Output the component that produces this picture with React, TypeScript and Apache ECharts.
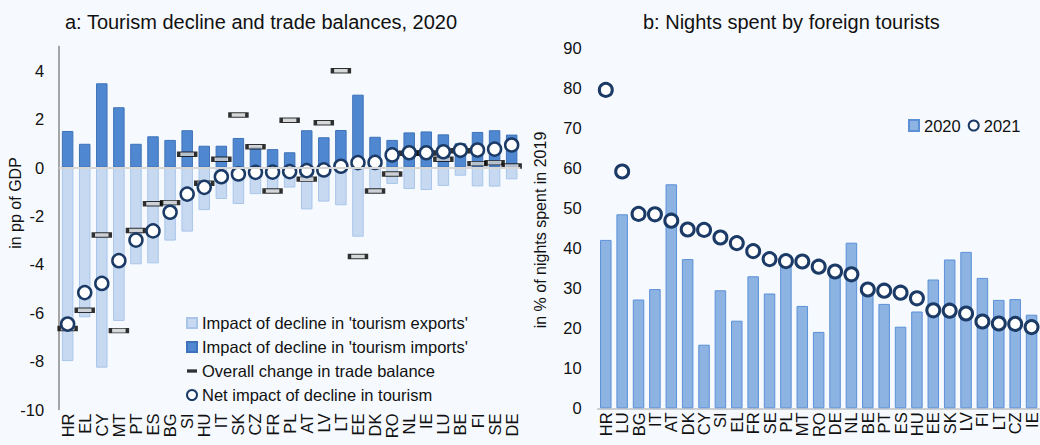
import React, { useEffect, useRef } from "react";
import * as echarts from "echarts";

const catsA = ["HR","EL","CY","MT","PT","ES","BG","SI","HU","IT","SK","CZ","FR","PL","AT","LV","LT","EE","DK","RO","NL","IE","LU","BE","FI","SE","DE"];
const tourismExports = [-8.0,-6.19,-8.27,-6.34,-4.0,-3.96,-3.02,-2.65,-1.76,-1.3,-1.51,-1.1,-0.95,-0.83,-1.73,-1.41,-1.56,-2.86,-1.06,-0.68,-0.89,-0.93,-0.76,-0.34,-0.78,-0.79,-0.49];
const tourismImports = [1.51,0.98,3.48,2.49,0.98,1.29,1.14,1.54,0.9,0.9,1.22,0.86,0.76,0.63,1.54,1.25,1.55,3.01,1.27,1.14,1.45,1.49,1.37,1.0,1.47,1.54,1.36];
const tradeBalance = [-6.65,-5.9,-2.79,-6.74,-2.6,-1.5,-1.45,0.55,-0.65,0.34,2.17,0.86,-0.97,1.95,-0.48,1.85,4.0,-3.68,-0.97,-0.27,0.59,0.6,0.34,0.69,0.16,0.2,0.06];
const netImpact = [-6.47,-5.17,-4.79,-3.85,-3.0,-2.62,-1.85,-1.1,-0.82,-0.38,-0.27,-0.2,-0.19,-0.17,-0.13,-0.1,0.05,0.2,0.21,0.52,0.61,0.61,0.65,0.71,0.72,0.76,0.93];

const catsB = ["HR","LU","BG","IT","AT","DK","CY","SI","EL","FR","SE","PL","MT","RO","DE","NL","BE","PT","ES","HU","EE","SK","LV","FI","LT","CZ","IE"];
const nights2020 = [42.1,48.5,27.2,29.8,56.0,37.3,15.9,29.5,21.9,33.0,28.7,36.2,25.6,19.1,34.2,41.4,29.9,26.1,20.4,24.2,32.2,37.2,39.1,32.6,27.1,27.3,23.4];
const nights2021 = [79.6,59.2,48.6,48.5,46.9,44.7,44.6,42.7,41.3,39.3,37.3,36.8,36.7,35.4,34.2,33.5,29.7,29.4,28.9,27.5,24.5,24.4,23.7,21.7,21.2,21.1,20.3];

const yTicksA = { min: -10, max: 5, interval: 2 };
const yTicksB = { min: 0, max: 90, interval: 10 };

const FONT = "Liberation Sans, Arial, sans-serif";
const TXT = "#111";
const FS = 16.5;

export default function App() {
  const ref = useRef<HTMLDivElement>(null);
  useEffect(() => {
    document.body.style.margin = "0";
    const chart = echarts.init(ref.current!, null, { renderer: "svg" });
    const darkBlue = "#4f88d1";
    const lightBlue = "#c6d9f1";
    const navy = "#1b3a66";
    const option: any = {
      animation: false,
      backgroundColor: "#f6faff",
      textStyle: { fontFamily: FONT, color: TXT },
      title: [
        { text: "a: Tourism decline and trade balances, 2020", left: 60, top: 7, textStyle: { fontFamily: FONT, fontSize: 20, fontWeight: "normal", color: TXT } },
        { text: "b: Nights spent by foreign tourists", left: 638, top: 7, textStyle: { fontFamily: FONT, fontSize: 20, fontWeight: "normal", color: TXT } },
      ],
      grid: [
        { left: 59.1, top: 46.5, width: 461.1, height: 363 },
        { left: 597.6, top: 48.3, width: 444.9, height: 360 },
      ],
      legend: [
        {
          orient: "vertical", left: 181, top: 309, itemWidth: 10, itemHeight: 10, itemGap: 6,
          textStyle: { fontFamily: FONT, fontSize: FS, color: TXT, lineHeight: 18 },
          data: [
            { name: "Impact of decline in 'tourism exports'", icon: "rect" },
            { name: "Impact of decline in 'tourism imports'", icon: "rect" },
            { name: "Overall change in trade balance", icon: "path://M0,0 L12,0 L12,4 L0,4 Z", itemStyle: { color: "#000", borderWidth: 0 } },
            { name: "Net impact of decline in tourism", icon: "circle" },
          ],
        },
        {
          orient: "horizontal", left: 903, top: 112, itemWidth: 10, itemHeight: 11, itemGap: 7,
          textStyle: { fontFamily: FONT, fontSize: FS, color: TXT },
          data: [
            { name: "2020", icon: "rect" },
            { name: "2021", icon: "circle" },
          ],
        },
      ],
      xAxis: [
        {
          type: "category", gridIndex: 0, data: catsA,
          axisLine: { show: false }, axisTick: { show: false },
          axisLabel: { rotate: 90, fontSize: FS, color: TXT, margin: 4, interval: 0, fontFamily: FONT },
        },
        {
          type: "category", gridIndex: 1, data: catsB,
          axisLine: { show: true, lineStyle: { color: "#c0c0c0", width: 1.5 } }, axisTick: { show: false },
          axisLabel: { rotate: 90, fontSize: FS, color: TXT, margin: 4, interval: 0, fontFamily: FONT },
        },
      ],
      yAxis: [
        {
          type: "value", gridIndex: 0, ...yTicksA,
          axisLine: { show: true, lineStyle: { color: "#888", width: 1.5 } },
          axisTick: { show: false }, splitLine: { show: false },
          axisLabel: { fontSize: FS, color: TXT, margin: 15, showMaxLabel: false, fontFamily: FONT },
        },
        {
          type: "value", gridIndex: 1, ...yTicksB,
          axisLine: { show: false }, axisTick: { show: false }, splitLine: { show: false },
          axisLabel: { fontSize: FS, color: TXT, margin: 16, fontFamily: FONT },
        },
      ],
      graphic: [
        { type: "text", x: 15, y: 203, rotation: Math.PI / 2, style: { text: "in pp of GDP", font: `16px ${FONT}`, fill: TXT, align: "center", verticalAlign: "middle" } },
        { type: "text", x: 540, y: 230, rotation: Math.PI / 2, style: { text: "in % of nights spent in 2019", font: `16px ${FONT}`, fill: TXT, align: "center", verticalAlign: "middle" } },
      ],
      series: [
        {
          name: "Impact of decline in 'tourism exports'", type: "bar", xAxisIndex: 0, yAxisIndex: 0, stack: "a",
          data: tourismExports, barWidth: 11.5,
          itemStyle: { color: lightBlue, borderColor: "#a9c5ea", borderWidth: 1 },
        },
        {
          name: "Impact of decline in 'tourism imports'", type: "bar", xAxisIndex: 0, yAxisIndex: 0, stack: "a",
          data: tourismImports, barWidth: 11.5,
          itemStyle: { color: darkBlue, borderColor: "#3f72b8", borderWidth: 1 },
          markLine: {
            silent: true, symbol: "none", label: { show: false },
            lineStyle: { color: "#d6d6d6", width: 2, type: "solid" },
            data: [{ yAxis: 0 }],
          },
        },
        {
          name: "Overall change in trade balance", type: "scatter", xAxisIndex: 0, yAxisIndex: 0,
          data: tradeBalance, symbol: "rect", symbolSize: [17, 4.5], z: 3,
          itemStyle: { color: "#cfcfcf", borderColor: "#000", borderWidth: 1.8 },
        },
        {
          name: "Net impact of decline in tourism", type: "scatter", xAxisIndex: 0, yAxisIndex: 0,
          data: netImpact, symbol: "circle", symbolSize: 13, z: 4,
          itemStyle: { color: "#fff", borderColor: navy, borderWidth: 2.5, opacity: 1 },
        },
        {
          name: "2020", type: "bar", xAxisIndex: 1, yAxisIndex: 1,
          data: nights2020, barWidth: 11.5,
          itemStyle: { color: "#8db3e2", borderColor: "#5b90d8", borderWidth: 1 },
        },
        {
          name: "2021", type: "scatter", xAxisIndex: 1, yAxisIndex: 1,
          data: nights2021, symbol: "circle", symbolSize: 13, z: 4,
          itemStyle: { color: "#fff", borderColor: navy, borderWidth: 3, opacity: 1 },
        },
      ],
    };
    chart.setOption(option);
    return () => chart.dispose();
  }, []);
  return <div ref={ref} style={{ width: 1040, height: 445 }} />;
}
